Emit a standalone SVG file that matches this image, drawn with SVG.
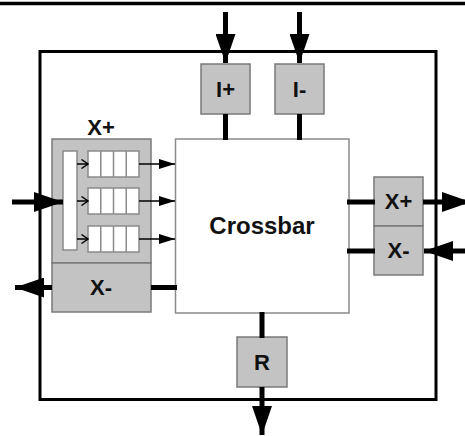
<svg xmlns="http://www.w3.org/2000/svg" width="465" height="436" viewBox="0 0 465 436">
<style>
.box{fill:#c3c3c3;stroke:#7a7a7a;stroke-width:1.5}
.wbox{fill:#ffffff;stroke:#8a8a8a;stroke-width:1.5}
.lbl{font-family:"Liberation Sans",Arial,sans-serif;font-weight:bold;font-size:22px;fill:#111;text-anchor:middle}
.big{font-size:24px}
.thick{stroke:#000;stroke-width:5;fill:none}
.thin{stroke:#000;stroke-width:1.5;fill:none}
</style>
<defs>
<marker id="big" markerUnits="userSpaceOnUse" viewBox="0 0 29 20" markerWidth="29" markerHeight="20" refX="29" refY="10" orient="auto"><path d="M0,0 L29,10 L0,20 z" fill="#000"/></marker>
<marker id="small" markerUnits="userSpaceOnUse" viewBox="0 0 16 10" markerWidth="16" markerHeight="10" refX="16" refY="5" orient="auto"><path d="M0,0 L16,5 L0,10 z" fill="#000"/></marker>
<marker id="open" markerUnits="userSpaceOnUse" viewBox="0 0 8 10" markerWidth="8" markerHeight="10" refX="7.5" refY="5" orient="auto"><path d="M1,0.5 L7.5,5 L1,9.5" fill="none" stroke="#000" stroke-width="1.4"/></marker>
</defs>
<line x1="0" y1="3.5" x2="465" y2="3.5" stroke="#000" stroke-width="3.5"/>
<g id="router"><rect x="40" y="51.5" width="396" height="348" fill="none" stroke="#000" stroke-width="3"/></g>
<g id="crossbar"><rect x="175.5" y="139" width="173.5" height="174" class="wbox"/><text x="262" y="234" class="lbl big">Crossbar</text></g>
<g id="iplus"><rect x="201" y="64" width="49" height="50" class="box"/><text x="225.5" y="97" class="lbl">I+</text></g>
<g id="iminus"><rect x="275" y="64" width="49" height="50" class="box"/><text x="299.5" y="97" class="lbl">I-</text></g>
<g id="xplus-left"><rect x="52" y="139" width="99" height="124" class="box"/><text x="101" y="135" class="lbl">X+</text>
<rect x="63" y="151" width="14" height="99" class="wbox"/>
<g class="queue"><rect x="88" y="151" width="51" height="26" class="wbox"/><path d="M100.75,151 V177 M113.5,151 V177 M126.25,151 V177" stroke="#8a8a8a" stroke-width="1.5"/></g>
<g class="queue"><rect x="88" y="188" width="51" height="26" class="wbox"/><path d="M100.75,188 V214 M113.5,188 V214 M126.25,188 V214" stroke="#8a8a8a" stroke-width="1.5"/></g>
<g class="queue"><rect x="88" y="226" width="51" height="26" class="wbox"/><path d="M100.75,226 V252 M113.5,226 V252 M126.25,226 V252" stroke="#8a8a8a" stroke-width="1.5"/></g>
</g>
<g id="xminus-left"><rect x="52" y="263" width="99" height="49" class="box"/><text x="101" y="295" class="lbl">X-</text></g>
<g id="xplus-right"><rect x="374" y="177" width="49" height="49" class="box"/><text x="398.5" y="209" class="lbl">X+</text></g>
<g id="xminus-right"><rect x="374" y="226" width="49" height="49" class="box"/><text x="398.5" y="258" class="lbl">X-</text></g>
<g id="r"><rect x="237" y="337" width="50" height="50" class="box"/><text x="262" y="370" class="lbl">R</text></g>
<g id="connectors">
<line x1="225.5" y1="12" x2="225.5" y2="63" class="thick" marker-end="url(#big)"/>
<line x1="299.5" y1="12" x2="299.5" y2="63" class="thick" marker-end="url(#big)"/>
<line x1="225.5" y1="114" x2="225.5" y2="140" class="thick"/>
<line x1="299.5" y1="114" x2="299.5" y2="140" class="thick"/>
<line x1="12" y1="202" x2="63" y2="202" class="thick" marker-end="url(#big)"/>
<line x1="52" y1="287.5" x2="15" y2="287.5" class="thick" marker-end="url(#big)"/>
<line x1="151" y1="287.5" x2="177" y2="287.5" class="thick"/>
<line x1="77" y1="164" x2="88" y2="164" class="thin" marker-end="url(#open)"/>
<line x1="77" y1="201" x2="88" y2="201" class="thin" marker-end="url(#open)"/>
<line x1="77" y1="239" x2="88" y2="239" class="thin" marker-end="url(#open)"/>
<line x1="139" y1="164" x2="175" y2="164" class="thin" marker-end="url(#small)"/>
<line x1="139" y1="201" x2="175" y2="201" class="thin" marker-end="url(#small)"/>
<line x1="139" y1="239" x2="175" y2="239" class="thin" marker-end="url(#small)"/>
<line x1="347" y1="202" x2="375" y2="202" class="thick"/>
<line x1="347" y1="251" x2="375" y2="251" class="thick"/>
<line x1="423" y1="202" x2="471" y2="202" class="thick" marker-end="url(#big)"/>
<line x1="466" y1="251" x2="424" y2="251" class="thick" marker-end="url(#big)"/>
<line x1="262" y1="312" x2="262" y2="338" class="thick"/>
<line x1="262" y1="387" x2="262" y2="435" class="thick" marker-end="url(#big)"/>
</g>
</svg>
